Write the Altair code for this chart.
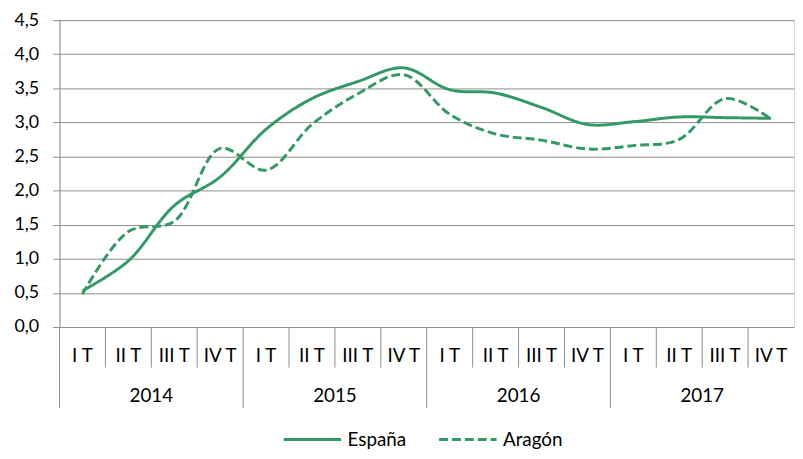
import altair as alt
import pandas as pd

# ---- data ----
quarters = ["I T", "II T", "III T", "IV T"] * 4
years = ["2014", "2015", "2016", "2017"]
series = ["España", "Aragón"]
espana = [0.53, 0.97, 1.78, 2.20, 2.90, 3.35, 3.60, 3.80, 3.48, 3.43, 3.22, 2.97, 3.01, 3.08, 3.07, 3.06]
aragon = [0.48, 1.40, 1.55, 2.62, 2.30, 2.97, 3.42, 3.70, 3.12, 2.83, 2.74, 2.61, 2.66, 2.75, 3.35, 3.05]
y_ticks = [0, 0.5, 1, 1.5, 2, 2.5, 3, 3.5, 4, 4.5]

GREEN = "#339966"
GRID = "#8E8E8E"
FONT = "Lato"

rows = []
for i in range(len(quarters)):
    rows.append({"pos": i + 0.5, "serie": series[0], "valor": espana[i], "ord": 0})
    rows.append({"pos": i + 0.5, "serie": series[1], "valor": aragon[i], "ord": 1})
df = pd.DataFrame(rows)

qdf = pd.DataFrame({"pos": [i + 0.5 for i in range(len(quarters))], "label": quarters})
ydf = pd.DataFrame({"pos": [4 * k + 2 for k in range(len(years))], "label": years})
qsep = pd.DataFrame({"pos": [i for i in range(1, 16) if i % 4]})
ysep = pd.DataFrame({"pos": [0, 4, 8, 12]})

W, H = 742, 310
xscale = alt.Scale(domain=[0, 16], nice=False, zero=False)
yscale = alt.Scale(domain=[0, 4.5], nice=False, zero=True)

lines = alt.Chart(df).mark_line(
    interpolate="catmull-rom", strokeWidth=3, color=GREEN
).encode(
    x=alt.X("pos:Q", scale=xscale, axis=None),
    y=alt.Y(
        "valor:Q",
        scale=yscale,
        axis=alt.Axis(
            values=y_ticks,
            title=None,
            labelExpr="replace(format(datum.value, '.1f'), '.', ',')",
            grid=True,
            gridColor=GRID,
            gridWidth=1,
            gridOpacity=1,
            domain=True,
            domainColor=GRID,
            domainWidth=1,
            ticks=True,
            tickSize=7,
            tickColor=GRID,
            labelPadding=14,
            labelFont=FONT,
            labelFontSize=18,
            labelColor="#000000",
        ),
    ),
    strokeDash=alt.StrokeDash(
        "serie:N",
        scale=alt.Scale(domain=series, range=[[1, 0], [9, 4]]),
        sort=series,
        legend=alt.Legend(
            title=None,
            orient="none",
            legendX=225,
            legendY=393,
            direction="horizontal",
            symbolType="stroke",
            symbolSize=3364,
            symbolStrokeWidth=3,
            symbolStrokeColor=GREEN,
            labelFont=FONT,
            labelFontSize=19,
            labelColor="#000000",
            labelOffset=5,
            columnPadding=26,
            padding=0,
        ),
    ),
    order="ord:Q",
)

qrules = alt.Chart(qsep).mark_rule(color=GRID, strokeWidth=1).encode(
    x=alt.X("pos:Q", scale=xscale, axis=None),
    y=alt.value(H),
    y2=alt.value(H + 41),
)
yrules = alt.Chart(ysep).mark_rule(color=GRID, strokeWidth=1).encode(
    x=alt.X("pos:Q", scale=xscale, axis=None),
    y=alt.value(H),
    y2=alt.value(H + 82),
)
qtext = alt.Chart(qdf).mark_text(
    font=FONT, fontSize=19, color="#000000", baseline="middle", align="center"
).encode(
    x=alt.X("pos:Q", scale=xscale, axis=None),
    y=alt.value(H + 29),
    text="label:N",
)
ytext = alt.Chart(ydf).mark_text(
    font=FONT, fontSize=19, color="#000000", baseline="middle", align="center"
).encode(
    x=alt.X("pos:Q", scale=xscale, axis=None),
    y=alt.value(H + 70),
    text="label:N",
)

chart = alt.layer(qrules, yrules, qtext, ytext, lines).properties(
    width=W,
    height=H,
    autosize=alt.AutoSizeParams(type="none"),
    padding={"left": 52, "top": 10, "right": 1, "bottom": 122},
).configure_view(stroke=None).configure(background="white")

chart.save("out.html", embed_options={"renderer": "svg", "actions": False})
